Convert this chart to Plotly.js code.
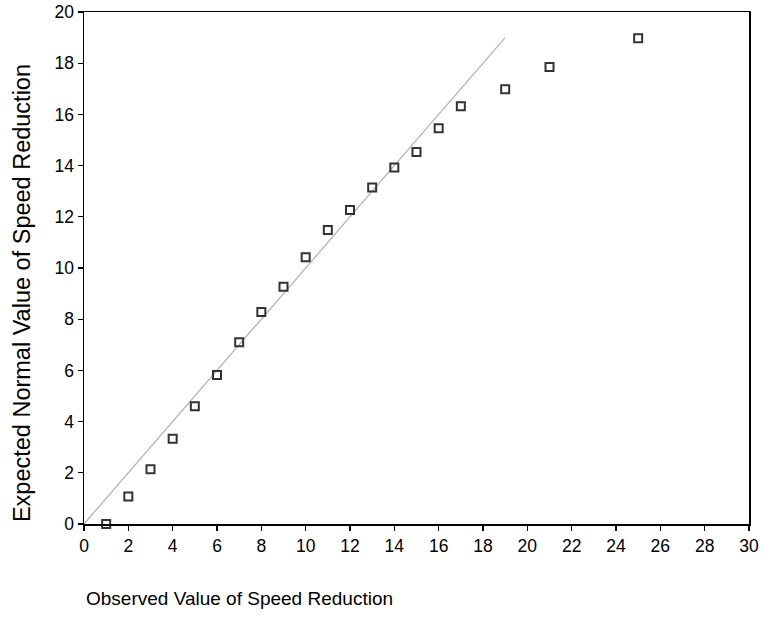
<!DOCTYPE html>
<html>
<head>
<meta charset="utf-8">
<script src="https://cdn.plot.ly/plotly-3.0.1.min.js"></script>
<style>html,body{margin:0;padding:0;background:#fff;}#chart{width:763px;height:617px;}</style>
</head>
<body>
<div id="chart"></div>
<script>
const observed = [1, 2, 3, 4, 5, 6, 7, 8, 9, 10, 11, 12, 13, 14, 15, 16, 17, 19, 21, 25];
const expected = [0.0, 1.07, 2.14, 3.33, 4.6, 5.82, 7.1, 8.28, 9.27, 10.42, 11.48, 12.27, 13.14, 13.93, 14.53, 15.46, 16.32, 16.98, 17.85, 18.97];
const refLineX = [0, 19];
const refLineY = [0, 19];
const xTitle = "Observed Value of Speed Reduction";
const yTitle = "Expected Normal Value of Speed Reduction";

const traces = [
  {x: refLineX, y: refLineY, mode: 'lines', line: {color: '#b4b4b4', width: 1.3}, hoverinfo: 'skip', cliponaxis: false},
  {x: observed, y: expected, mode: 'markers', cliponaxis: false,
   marker: {symbol: 'square-open', size: 8, color: '#333333', line: {width: 2, color: '#333333'}}}
];
const fam = 'Liberation Sans, Arial, sans-serif';
const layout = {
  width: 763, height: 617,
  margin: {l: 84, r: 14, t: 12, b: 93},
  paper_bgcolor: '#fff', plot_bgcolor: '#fff',
  showlegend: false,
  font: {family: fam, color: '#000'},
  xaxis: {range: [0, 30], dtick: 2, tick0: 0, showgrid: false, zeroline: false,
    showline: true, mirror: true, linecolor: '#000', linewidth: 1.5,
    ticks: 'outside', ticklen: 5, tickcolor: '#000', tickwidth: 1.3,
    tickfont: {family: fam, size: 17.5, color: '#000'}},
  yaxis: {range: [0, 20], dtick: 2, tick0: 0, showgrid: false, zeroline: false,
    showline: true, mirror: true, linecolor: '#000', linewidth: 1.5,
    ticks: 'outside', ticklen: 5, tickcolor: '#000', tickwidth: 1.3,
    tickfont: {family: fam, size: 17.5, color: '#000'}},
  annotations: [
    {text: xTitle, xref: 'paper', yref: 'paper', x: 0, y: -0.146, xanchor: 'left', yanchor: 'middle',
     showarrow: false, font: {family: fam, size: 19, color: '#000'}},
    {text: yTitle, xref: 'paper', yref: 'paper', x: 0, y: 0.451, xanchor: 'center', yanchor: 'middle',
     textangle: -90, xshift: -62, showarrow: false, font: {family: fam, size: 23.5, color: '#000'}}
  ]
};
Plotly.newPlot('chart', traces, layout, {displayModeBar: false, staticPlot: true});
</script>
</body>
</html>
